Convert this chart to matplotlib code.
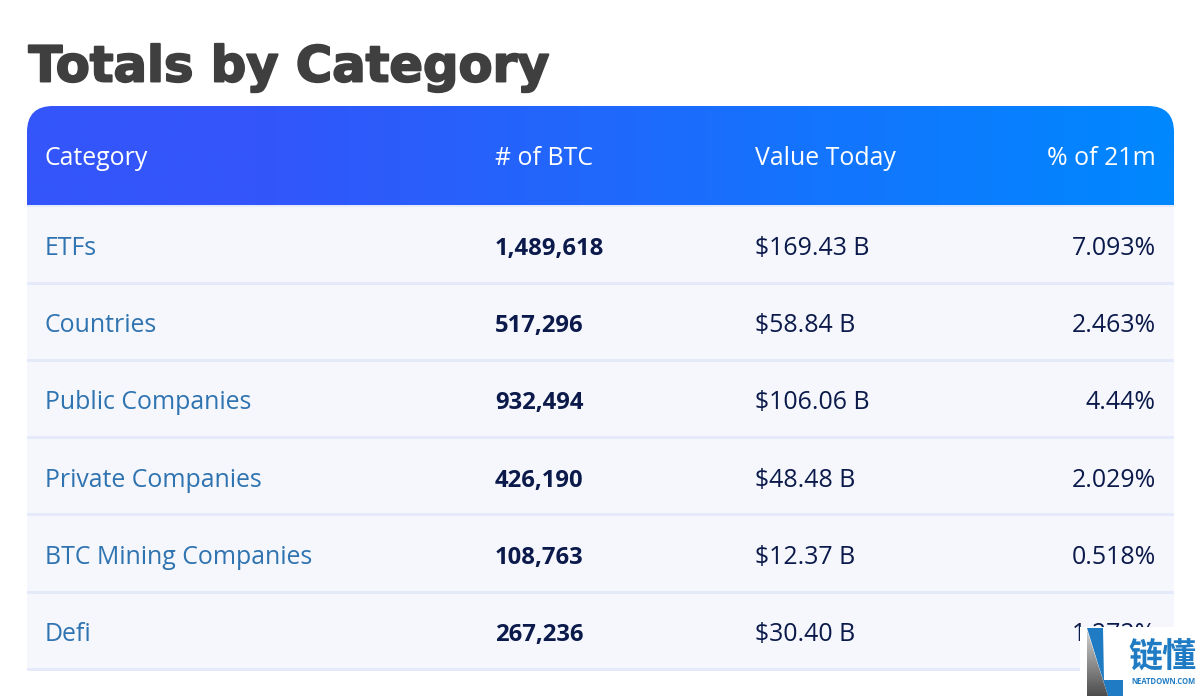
import numpy as np
import matplotlib
matplotlib.use("Agg")
import matplotlib.pyplot as plt
import matplotlib.patheffects as pe
from matplotlib.patches import PathPatch, Rectangle, Polygon
from matplotlib.path import Path

title = "Totals by Category"
headers = ["Category", "# of BTC", "Value Today", "% of 21m"]
categories = ["ETFs", "Countries", "Public Companies", "Private Companies",
              "BTC Mining Companies", "Defi"]
btc = ["1,489,618", "517,296", "932,494", "426,190", "108,763", "267,236"]
values = ["$169.43 B", "$58.84 B", "$106.06 B", "$48.48 B", "$12.37 B", "$30.40 B"]
shares = ["7.093%", "2.463%", "4.44%", "2.029%", "0.518%", "1.272%"]

L, R, TOP, HEAD, ROW = 27, 1174, 106, 205, 77.2
COLX = [45, 495, 755, 1156]
FONT = "Open Sans"
FS = 17.9

fig = plt.figure(figsize=(12, 6.97), dpi=100, facecolor="white")
ax = fig.add_axes([0, 0, 1, 1])
ax.set_xlim(0, 1200); ax.set_ylim(697, 0); ax.axis("off")

ax.text(L + 1.5, 81.5, title, fontsize=35.7, fontweight="bold", family="DejaVu Sans",
        color="#3f3f3f", va="baseline", ha="left",
        path_effects=[pe.withStroke(linewidth=1.4, foreground="#3f3f3f")])

# header with rounded top corners and horizontal gradient
r = 26
verts = [(L, HEAD), (L, TOP + r), (L, TOP), (L + r, TOP), (R - r, TOP), (R, TOP),
         (R, TOP + r), (R, HEAD), (L, HEAD)]
codes = [Path.MOVETO, Path.LINETO, Path.CURVE3, Path.CURVE3, Path.LINETO, Path.CURVE3,
         Path.CURVE3, Path.LINETO, Path.CLOSEPOLY]
clip = PathPatch(Path(verts, codes), fc="none", ec="none", transform=ax.transData)
ax.add_patch(clip)
c0, c1 = np.array([0x33, 0x55, 0xfa]) / 255, np.array([0x00, 0x88, 0xff]) / 255
t = np.clip(np.linspace(-0.25, 1.0, 512), 0, 1)[None, :, None]
grad = c0[None, None, :] * (1 - t) + c1[None, None, :] * t
im = ax.imshow(grad, extent=(L, R, HEAD, TOP), aspect="auto", zorder=2, interpolation="bilinear")
im.set_clip_path(clip)
ax.set_xlim(0, 1200); ax.set_ylim(697, 0)

for i, h in enumerate(headers):
    ax.text(COLX[i], 165, h, color="white", fontsize=FS, family=FONT,
            va="baseline", ha="right" if i == 3 else "left", zorder=3)

ax.add_patch(Rectangle((L, HEAD), R - L, 2, fc="#e5eafa", ec="none", zorder=1.5))
for i, cat in enumerate(categories):
    y0 = HEAD + 2 + i * ROW
    ax.add_patch(Rectangle((L, y0), R - L, ROW, fc="#f5f7fd", ec="none", zorder=1))
    ax.add_patch(Rectangle((L, y0 + ROW - 2.5), R - L, 3, fc="#e5eafa", ec="none", zorder=1.5))
    yb = y0 + 48
    ax.text(COLX[0], yb, cat, color="#2f73b0", fontsize=FS, family=FONT, va="baseline", zorder=3)
    ax.text(COLX[1], yb, btc[i], color="#0b1a4a", fontsize=FS - 0.7, family=FONT,
            fontweight="bold", va="baseline", zorder=3)
    ax.text(COLX[2], yb, values[i], color="#0b1a4a", fontsize=FS, family=FONT, va="baseline", zorder=3)
    ax.text(COLX[3], yb, shares[i], color="#0b1a4a", fontsize=FS, family=FONT,
            va="baseline", ha="right", zorder=3)

# watermark
ax.add_patch(Rectangle((1080, 627), 120, 70, fc="white", ec="none", zorder=5))
ax.add_patch(Polygon([(1087, 628), (1103, 628), (1104, 680), (1123, 680), (1123, 696), (1108, 696)],
                     fc="#1f7cc4", ec="none", zorder=6))
tri = Polygon([(1087, 630), (1108, 696), (1087, 696)], fc="none", ec="none", zorder=6)
ax.add_patch(tri)
g = ax.imshow(np.linspace(0.82, 0.3, 128)[:, None], extent=(1087, 1108, 696, 630), aspect="auto",
              cmap="gray", vmin=0, vmax=1, zorder=6)
g.set_clip_path(tri)
ax.set_xlim(0, 1200); ax.set_ylim(697, 0)
ax.text(1162, 656, "链懂", color="#1f7cc4", fontsize=24.5, family="Noto Sans CJK SC",
        fontweight="bold", ha="center", va="center", zorder=7)
ax.text(1163, 681, "NEATDOWN.COM", color="#1f7cc4", fontsize=5.5, family="Open Sans",
        fontweight="bold", ha="center", va="center", zorder=7)

fig.savefig("out.png", dpi=100)
